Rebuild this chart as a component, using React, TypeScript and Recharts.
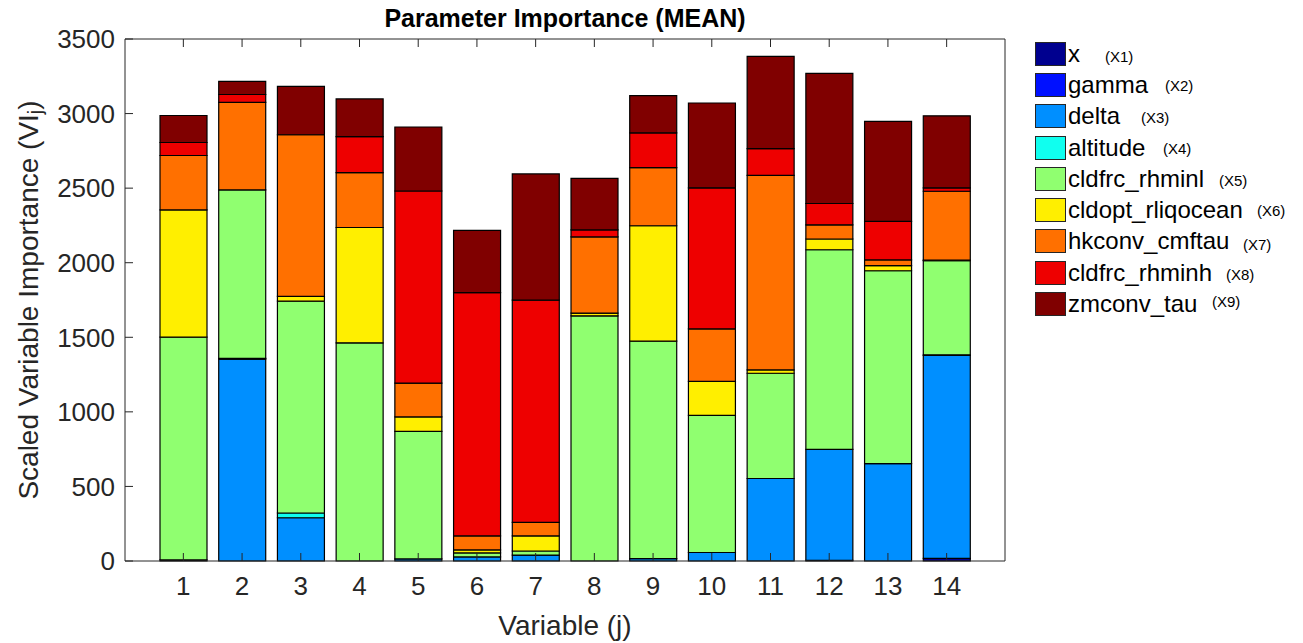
import React from "react";
import { BarChart, Bar, XAxis, YAxis, Legend, Label } from "recharts";

const categories = ["1", "2", "3", "4", "5", "6", "7", "8", "9", "10", "11", "12", "13", "14"];

const seriesNames = [
  "x",
  "gamma",
  "delta",
  "altitude",
  "cldfrc_rhminl",
  "cldopt_rliqocean",
  "hkconv_cmftau",
  "cldfrc_rhminh",
  "zmconv_tau",
];
const seriesNotes = ["(X1)", "(X2)", "(X3)", "(X4)", "(X5)", "(X6)", "(X7)", "(X8)", "(X9)"];
const seriesColors = [
  "#00008f",
  "#0010ff",
  "#008fff",
  "#10ffef",
  "#90ff70",
  "#ffef00",
  "#ff7000",
  "#ee0000",
  "#800000",
];

// values, bottom to top
const xValues = [7, 0, 0, 0, 0, 0, 0, 0, 0, 0, 0, 5, 0, 18];
const gammaValues = [0, 0, 0, 0, 0, 0, 0, 0, 0, 0, 0, 0, 0, 0];
const deltaValues = [0, 1354, 290, 0, 14, 27, 40, 0, 16, 57, 553, 743, 653, 1360];
const altitudeValues = [0, 5, 32, 0, 0, 0, 0, 0, 0, 0, 0, 0, 0, 5];
const rhminlValues = [1494, 1129, 1420, 1463, 855, 27, 27, 1644, 1458, 920, 706, 1339, 1293, 631];
const rliqoceanValues = [853, 0, 32, 773, 97, 20, 101, 18, 774, 227, 22, 72, 34, 3];
const cmftauValues = [365, 587, 1084, 368, 227, 94, 91, 511, 390, 352, 1305, 95, 39, 462];
const rhminhValues = [87, 53, 0, 242, 1288, 1632, 1490, 47, 233, 946, 179, 143, 258, 23];
const zmtauValues = [181, 88, 324, 252, 429, 417, 846, 345, 250, 569, 619, 873, 671, 483];

const yTicks = [0, 500, 1000, 1500, 2000, 2500, 3000, 3500];

const seriesValues = [
  xValues,
  gammaValues,
  deltaValues,
  altitudeValues,
  rhminlValues,
  rliqoceanValues,
  cmftauValues,
  rhminhValues,
  zmtauValues,
];

const data = categories.map((c, i) => {
  const row: { [k: string]: string | number } = { variable: c };
  seriesValues.forEach((vals, k) => {
    row[`s${k}`] = vals[i];
  });
  return row;
});

const FONT = '"Liberation Sans", Arial, Helvetica, sans-serif';
const INK = "#262626";

// legend note placement (x from legend left, y nudge)
const noteLeft = [70, 130, 106, 128, 184, 222, 208, 191, 177];
const noteDy = [5, 3, 3, 3, 4, 3, 5, 4, 0];

const LegendBox = () => (
  <div style={{ position: "relative", fontFamily: FONT, color: "#000" }}>
    {seriesNames.map((name, i) => (
      <div key={name} style={{ position: "relative", height: 31.3, display: "flex", alignItems: "center" }}>
        <div
          style={{
            width: 29,
            height: 22,
            background: seriesColors[i],
            border: `1px solid ${INK}`,
            flex: "none",
          }}
        />
        <span style={{ marginLeft: 2, fontSize: 24, lineHeight: "24px" }}>{name}</span>
        <span
          style={{
            position: "absolute",
            left: noteLeft[i],
            top: 6 + noteDy[i],
            fontSize: 15,
            lineHeight: "16px",
          }}
        >
          {seriesNotes[i]}
        </span>
      </div>
    ))}
  </div>
);

const YTitle = (props: any) => {
  const vb = props.viewBox;
  const cx = vb.x + 28;
  const cy = vb.y + vb.height / 2;
  return (
    <text
      x={cx}
      y={cy}
      transform={`rotate(-90, ${cx}, ${cy})`}
      textAnchor="middle"
      dominantBaseline="central"
      fontSize={28}
      fill={INK}
    >
      Scaled Variable Importance (VI
      <tspan fontSize={20} dy={7}>
        j
      </tspan>
      <tspan dy={-7}>)</tspan>
    </text>
  );
};

const XTitle = (props: any) => {
  const vb = props.viewBox;
  return (
    <text x={vb.x + vb.width / 2} y={vb.y + 74} textAnchor="middle" fontSize={28} fill={INK}>
      Variable (j)
    </text>
  );
};

const ChartTitle = (props: any) => {
  const vb = props.viewBox;
  return (
    <text x={vb.x + vb.width / 2} y={vb.y - 11} textAnchor="middle" fontSize={25} fontWeight="bold" fill="#000">
      Parameter Importance (MEAN)
    </text>
  );
};

const NoTick = () => <g />;

export default function App() {
  return (
    <div style={{ position: "absolute", left: 0, top: 0, width: 1303, height: 643, background: "#fff" }}>
      <BarChart
        width={1303}
        height={643}
        data={data}
        margin={{ top: 38, right: 297, bottom: 0, left: 0 }}
        style={{ fontFamily: FONT }}
      >
        <XAxis
          dataKey="variable"
          height={82}
          interval={0}
          padding={{ left: 29, right: 29 }}
          tickSize={-8}
          tickMargin={24}
          axisLine={{ stroke: INK }}
          tickLine={{ stroke: INK }}
          tick={{ fontSize: 26, fill: INK }}
        >
          <Label content={XTitle} />
        </XAxis>
        <XAxis
          xAxisId="top"
          orientation="top"
          dataKey="variable"
          height={1}
          interval={0}
          padding={{ left: 29, right: 29 }}
          tickSize={-8}
          axisLine={{ stroke: INK }}
          tickLine={{ stroke: INK }}
          tick={NoTick}
        >
          <Label content={ChartTitle} />
        </XAxis>
        <YAxis
          width={125}
          domain={[0, 3500]}
          ticks={yTicks}
          interval={0}
          tickSize={-8}
          tickMargin={18}
          axisLine={{ stroke: INK }}
          tickLine={{ stroke: INK }}
          tick={{ fontSize: 26, fill: INK }}
        >
          <Label content={YTitle} />
        </YAxis>
        <YAxis
          yAxisId="r"
          orientation="right"
          width={1}
          domain={[0, 3500]}
          ticks={yTicks}
          interval={0}
          tickSize={-8}
          axisLine={{ stroke: INK }}
          tickLine={{ stroke: INK }}
          tick={NoTick}
        />
        <Legend
          layout="vertical"
          align="center"
          verticalAlign="middle"
          content={LegendBox}
          wrapperStyle={{ left: 1035, top: 38, width: 268, height: 290 }}
        />
        {seriesNames.map((name, k) => (
          <Bar
            key={name}
            name={name}
            dataKey={`s${k}`}
            stackId="a"
            fill={seriesColors[k]}
            stroke="#000"
            strokeWidth={1.2}
            barSize={47}
            isAnimationActive={false}
          />
        ))}
      </BarChart>
    </div>
  );
}
